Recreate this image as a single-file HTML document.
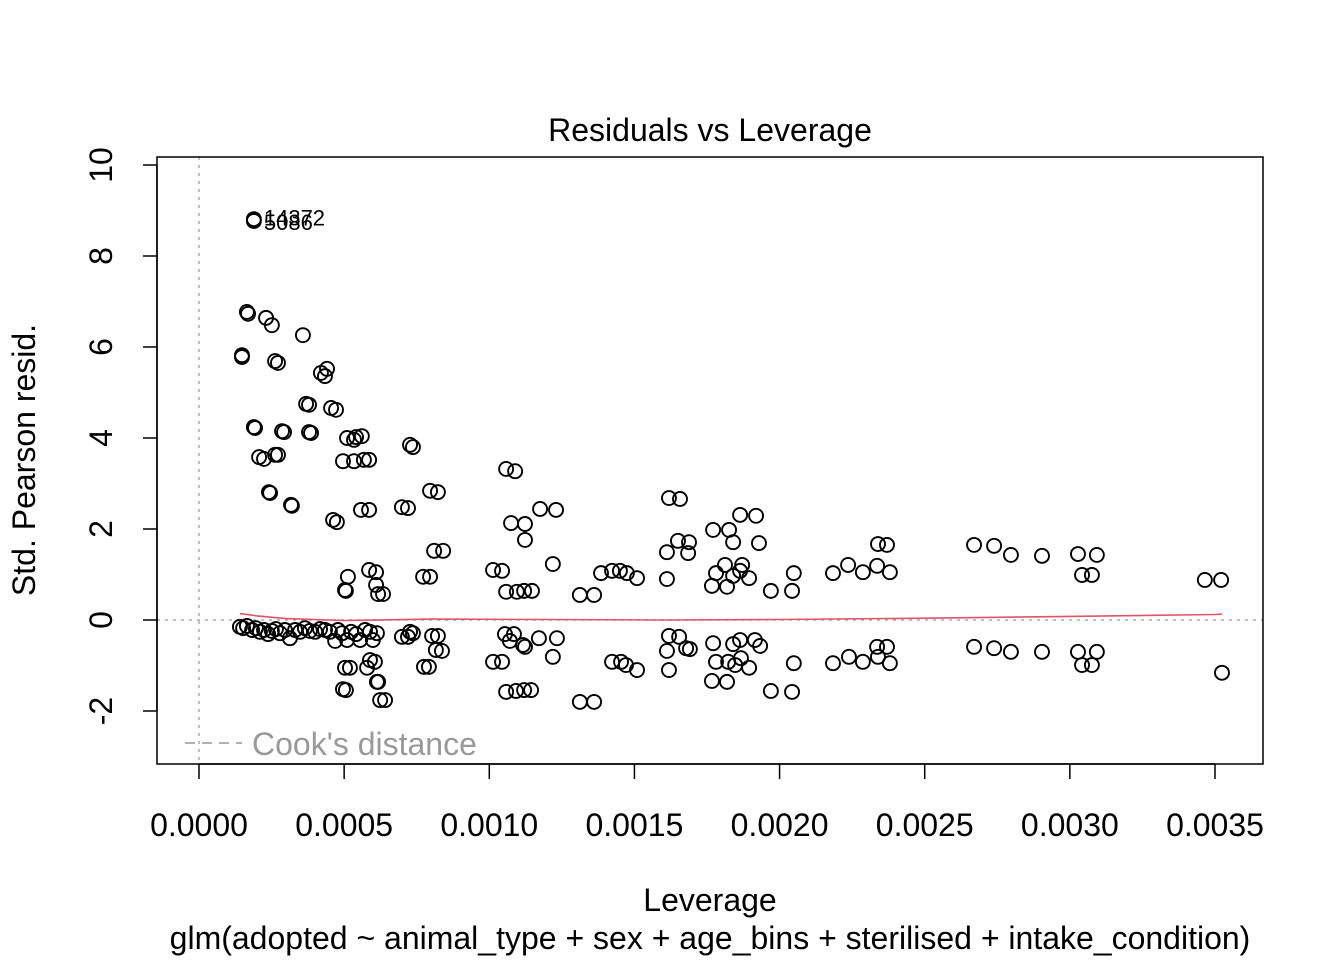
<!DOCTYPE html>
<html><head><meta charset="utf-8"><style>
html,body{margin:0;padding:0;background:#fff;width:1344px;height:960px;overflow:hidden;}
svg text{font-family:"Liberation Sans",Arial,sans-serif;}
</style></head><body>
<svg id="chart" width="1344" height="960" xmlns="http://www.w3.org/2000/svg" style="position:absolute;left:0;top:0">
<rect width="1344" height="960" fill="#fff"/>
<text x="710" y="141" font-size="32" text-anchor="middle">Residuals vs Leverage</text>
<text x="710" y="911" font-size="32" text-anchor="middle">Leverage</text>
<text x="710" y="949" font-size="32" text-anchor="middle">glm(adopted ~ animal_type + sex + age_bins + sterilised + intake_condition)</text>
<text x="0" y="0" font-size="32" text-anchor="middle" transform="translate(35 460) rotate(-90)">Std. Pearson resid.</text>
<line x1="185" x2="242" y1="743" y2="743" stroke="#999" stroke-width="1.6" stroke-dasharray="10,7"/>
<text x="252" y="755" font-size="32" fill="#999">Cook's distance</text>
</svg>
<script>
const levs=[.000189,.000189,.000165,.000169,.000231,.000251,.000358,.000148,.000148,.000262,.000272,.000420,.000434,.000441,.000369,.000379,.000455,.000472,.000189,.000193,.000286,.000293,.000379,.000386,.000510,.000541,.000561,.000534,.000727,.000737,.000207,.000224,.000262,.000272,.000496,.000534,.000568,.000586,.000241,.000245,.000317,.000320,.000462,.000475,.000558,.000586,.000699,.000720,.000796,.000823,.001058,.001089,.001075,.001123,.001123,.001175,.001230,.000810,.000841,.000772,.000796,.000513,.000503,.000506,.000586,.000610,.000610,.000617,.000634,.001013,.001044,.001058,.001095,.001120,.001147,.001219,.001312,.001361,.001385,.001423,.001450,.001474,.001509,.001619,.001657,.001612,.001612,.001650,.001688,.001685,.001771,.001826,.001864,.001919,.001840,.001929,.001767,.001781,.001812,.001819,.001840,.001864,.001871,.001895,.001970,.002043,.002049,.002184,.002236,.002287,.002336,.002339,.002370,.002380,.002670,.002739,.002797,.002904,.003028,.003093,.003042,.003076,.003465,.003521,
.000141,.000152,.000165,.000183,.000196,.000210,.000224,.000238,.000251,.000265,.000279,.000296,.000313,.000331,.000348,.000365,.000382,.000400,.000417,.000434,.000451,.000469,.000479,.000493,.000510,.000524,.000541,.000555,.000572,.000589,.000599,.000613,
.000503,.000520,.000506,.000496,.000589,.000606,.000579,.000613,.000624,.000641,.000617,.000699,.000720,.000727,.000737,.000775,.000792,.000803,.000823,.000816,.000837,.001013,.001044,.001058,.001092,.001120,.001144,.001054,.001085,.001071,.001116,.001123,.001171,.001233,.001219,.001312,.001361,.001423,.001454,.001471,.001509,.001619,.001654,.001612,.001619,.001678,.001691,.001771,.001840,.001864,.001915,.001933,.001781,.001823,.001847,.001867,.001895,.001767,.001819,.001970,.002043,.002049,.002184,.002239,.002287,.002336,.002370,.002339,.002380,.002670,.002739,.002797,.002904,.003028,.003093,.003042,.003076,.003524];
const resids=[8.81,8.77,6.77,6.73,6.64,6.48,6.26,5.82,5.78,5.69,5.65,5.43,5.36,5.52,4.75,4.73,4.66,4.62,4.24,4.22,4.15,4.13,4.13,4.11,4.00,4.02,4.04,3.96,3.85,3.80,3.58,3.54,3.63,3.63,3.49,3.49,3.52,3.52,2.81,2.79,2.53,2.51,2.20,2.15,2.42,2.42,2.48,2.46,2.84,2.81,3.32,3.27,2.13,2.11,1.76,2.44,2.42,1.52,1.52,0.95,0.95,0.95,0.66,0.64,1.10,1.05,0.77,0.57,0.57,1.10,1.08,0.62,0.62,0.64,0.64,1.23,0.55,0.55,1.03,1.08,1.08,1.03,0.92,2.68,2.66,1.49,0.90,1.74,1.71,1.47,1.98,1.98,2.31,2.29,1.71,1.69,0.75,1.03,1.21,0.73,0.97,1.08,1.21,0.92,0.64,0.64,1.03,1.03,1.21,1.05,1.19,1.67,1.65,1.05,1.65,1.63,1.43,1.41,1.45,1.43,0.99,0.99,0.88,0.88,
-0.15,-0.18,-0.13,-0.22,-0.18,-0.26,-0.22,-0.31,-0.24,-0.20,-0.29,-0.22,-0.40,-0.22,-0.26,-0.18,-0.24,-0.26,-0.20,-0.22,-0.26,-0.46,-0.22,-0.29,-0.44,-0.26,-0.31,-0.44,-0.22,-0.26,-0.44,-0.29,
-1.05,-1.05,-1.54,-1.52,-0.88,-0.92,-1.05,-1.36,-1.76,-1.76,-1.36,-0.37,-0.37,-0.26,-0.29,-1.03,-1.03,-0.35,-0.35,-0.66,-0.68,-0.92,-0.92,-1.58,-1.56,-1.54,-1.54,-0.31,-0.31,-0.46,-0.55,-0.59,-0.40,-0.40,-0.81,-1.80,-1.80,-0.92,-0.92,-0.99,-1.10,-0.35,-0.37,-0.68,-1.10,-0.62,-0.64,-0.51,-0.53,-0.44,-0.44,-0.57,-0.92,-0.92,-0.99,-0.84,-1.05,-1.34,-1.36,-1.56,-1.58,-0.95,-0.95,-0.81,-0.92,-0.59,-0.59,-0.81,-0.95,-0.59,-0.62,-0.70,-0.70,-0.70,-0.70,-0.99,-0.99,-1.16];
const smoothLev=[.000141,.0002,.0003,.0005,.0008,.0012,.0016,.002,.0025,.003,.0035,.003524];
const smoothFit=[0.14,0.09,0.03,-0.01,0.02,0.01,0.0,0.01,0.04,0.08,0.12,0.13];
const xTicks=[0,0.0005,0.001,0.0015,0.002,0.0025,0.003,0.0035];
const xTickLabels=["0.0000","0.0005","0.0010","0.0015","0.0020","0.0025","0.0030","0.0035"];
const yTicks=[-2,0,2,4,6,8,10];
const pointLabels=["14372","5086"];
const labelLev=[.000189,.000189];
const labelRes=[8.85,8.75];

const NS="http://www.w3.org/2000/svg";
const svg=document.getElementById('chart');
const X=v=>199+v*(1016/0.0035);
const Y=v=>620-v*45.5;
function mk(tag,attrs,parent){const e=document.createElementNS(NS,tag);for(const k in attrs)e.setAttribute(k,attrs[k]);(parent||svg).appendChild(e);return e;}

let e=mk('line',{x1:157,x2:1263,y1:Y(0),y2:Y(0),stroke:'#aaa','stroke-width':1.5,'stroke-dasharray':'3,5'});


e=mk('line',{x1:X(0),x2:X(0),y1:157,y2:764,stroke:'#aaa','stroke-width':1.5,'stroke-dasharray':'3,5'});



const g=mk('g',{fill:'none',stroke:'#000','stroke-width':1.9});


for(let i=0;i<levs.length;i++){
  const c=mk('circle',{cx:X(levs[i]),cy:Y(resids[i]),r:7},g);
  
  
}
let d='';for(let i=0;i<smoothLev.length;i++)d+=(i?'L':'M')+X(smoothLev[i]).toFixed(1)+','+Y(smoothFit[i]).toFixed(1);
e=mk('path',{d:d,fill:'none',stroke:'#DF536B','stroke-width':1.6});


for(let i=0;i<pointLabels.length;i++){
  const t=mk('text',{x:X(labelLev[i])+10,y:Y(labelRes[i])+8,'font-size':22});
  t.textContent=pointLabels[i];
  
  
}
e=mk('rect',{x:157,y:157,width:1106,height:607,fill:'none',stroke:'#000','stroke-width':1.5});


e=mk('line',{x1:X(0),x2:X(0.0035),y1:764,y2:764,stroke:'#000','stroke-width':1.5});


for(let i=0;i<xTicks.length;i++){
  const l=mk('line',{x1:X(xTicks[i]),x2:X(xTicks[i]),y1:764,y2:779,stroke:'#000','stroke-width':1.5});
  
  
  const t=mk('text',{x:X(xTicks[i]),y:836,'font-size':32,'text-anchor':'middle'});
  t.textContent=xTickLabels[i];
  
  
}
e=mk('line',{x1:157,x2:157,y1:Y(-2),y2:Y(10),stroke:'#000','stroke-width':1.5});


for(let i=0;i<yTicks.length;i++){
  const l=mk('line',{x1:143,x2:157,y1:Y(yTicks[i]),y2:Y(yTicks[i]),stroke:'#000','stroke-width':1.5});
  
  
  const t=mk('text',{x:112,y:Y(yTicks[i]),'font-size':32,'text-anchor':'middle',transform:'rotate(-90 112 '+Y(yTicks[i])+')'});
  t.textContent=yTicks[i];
  
  
}
</script>
</body></html>
